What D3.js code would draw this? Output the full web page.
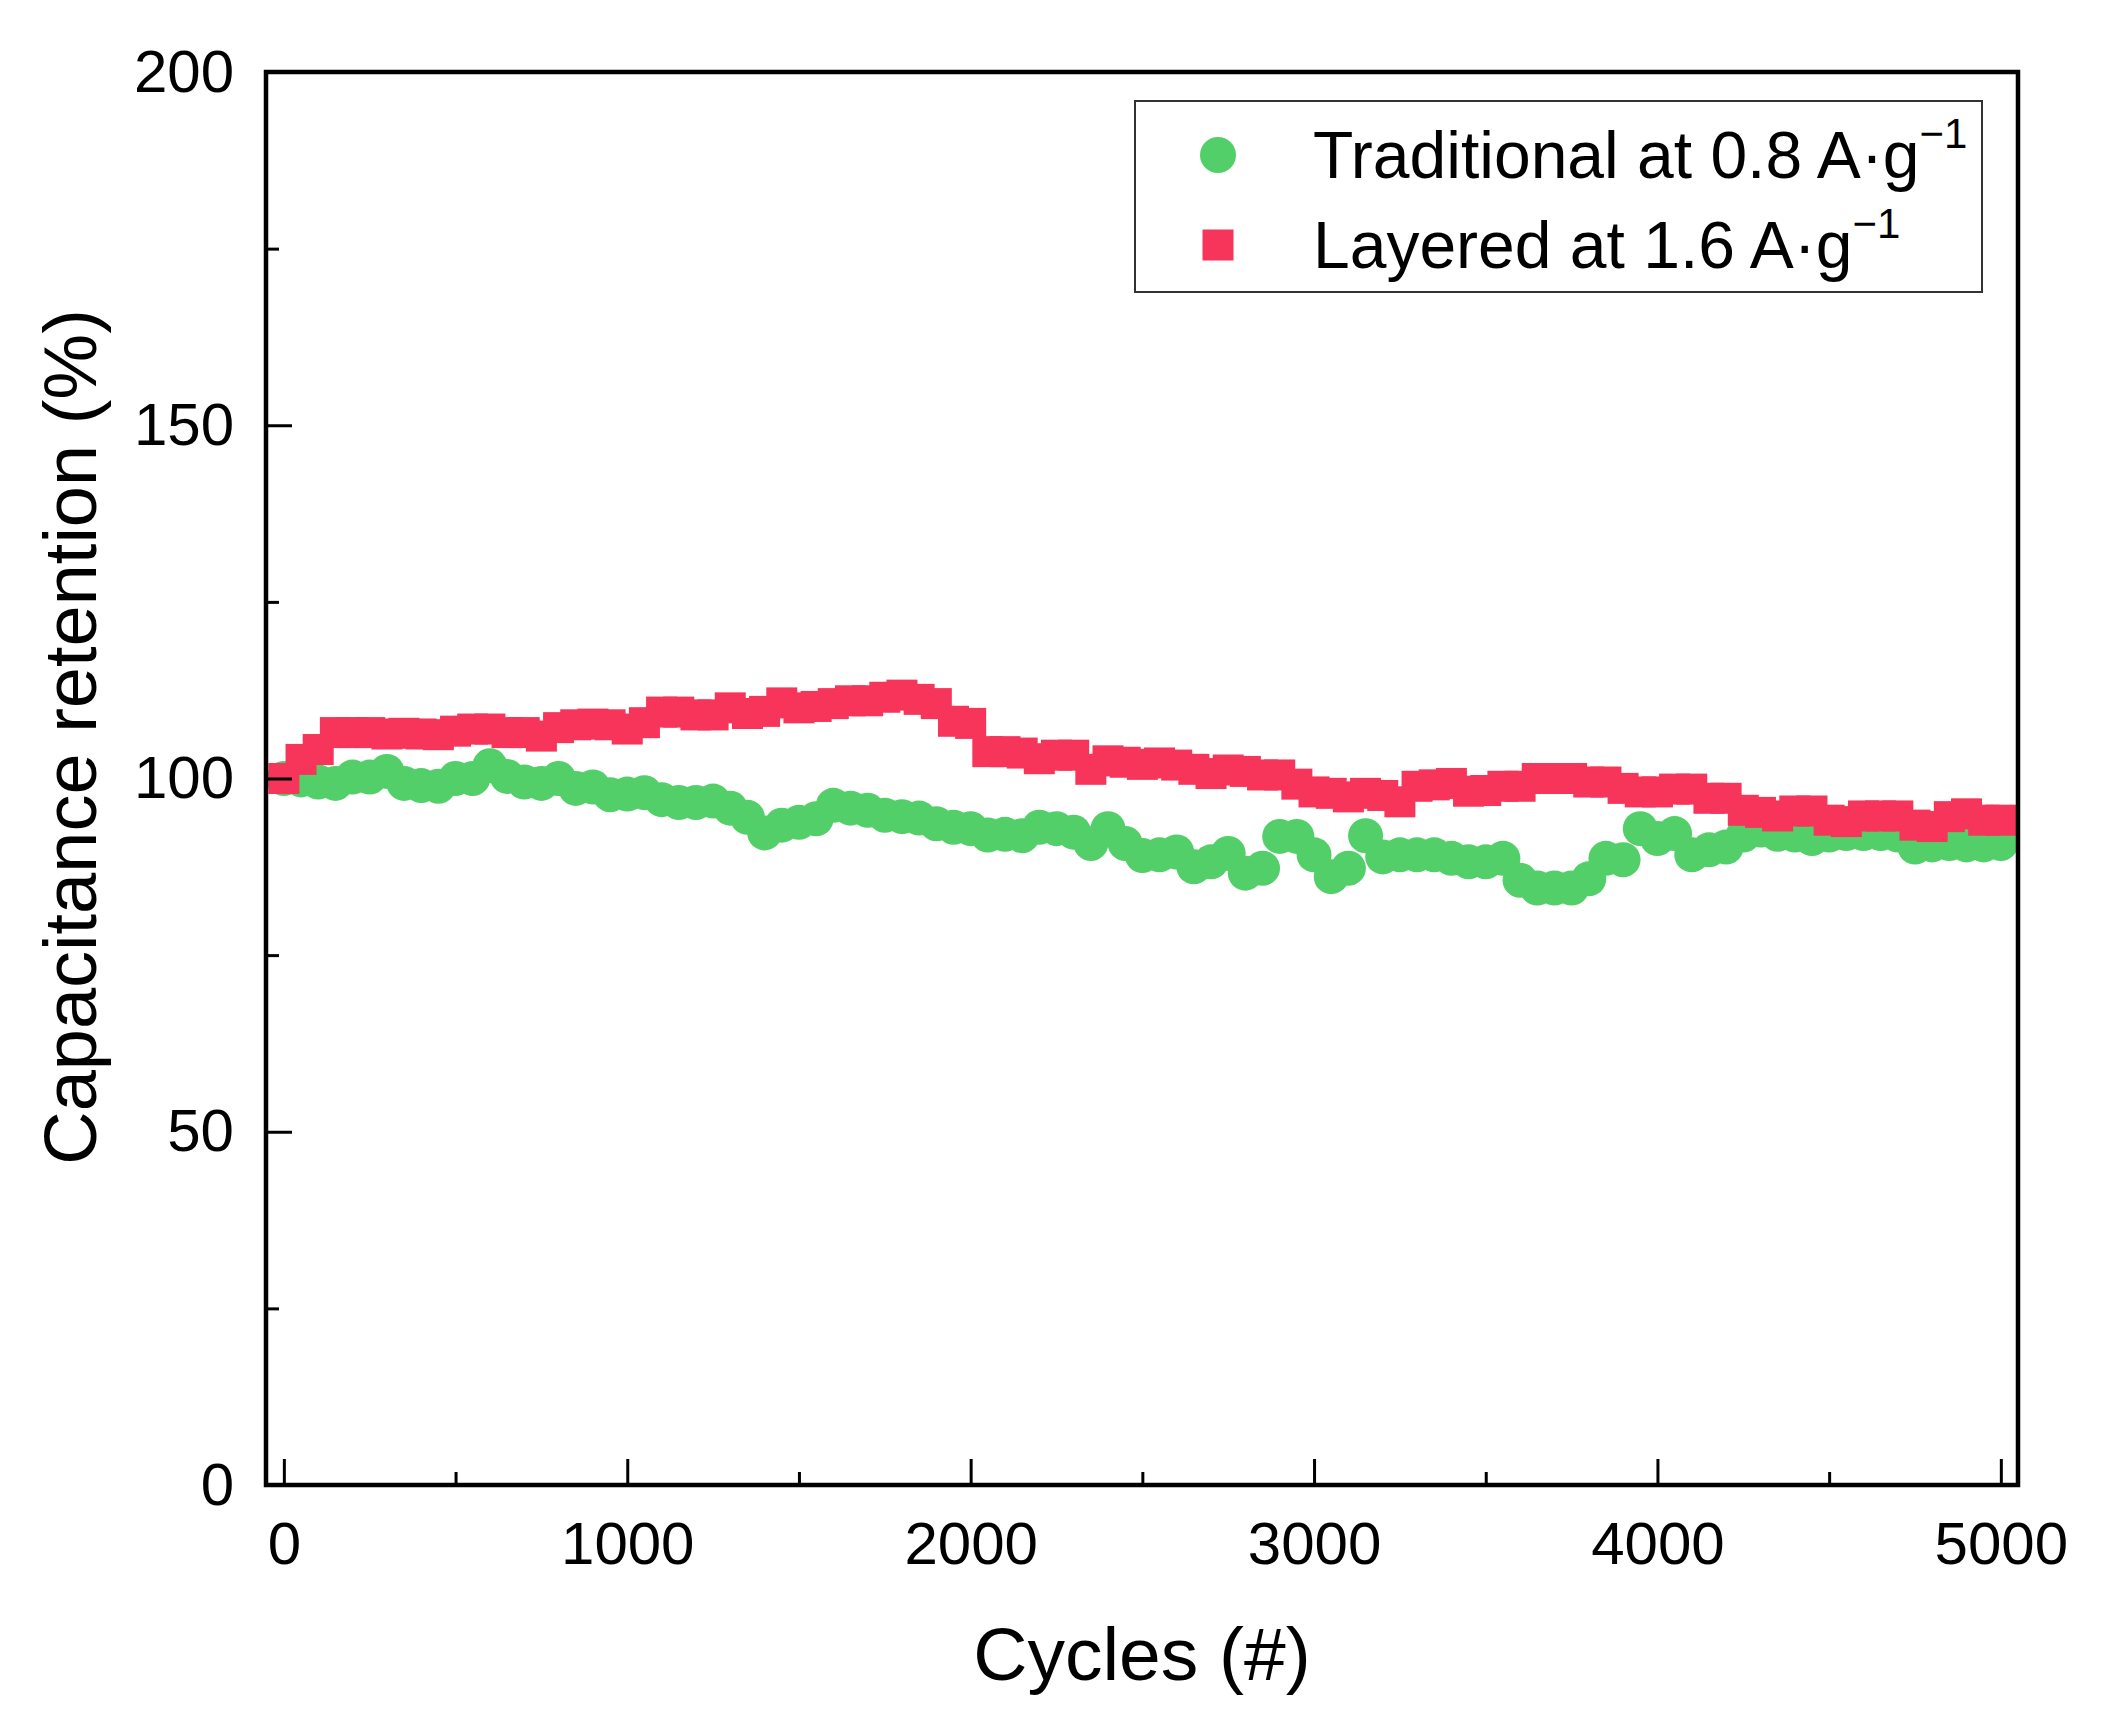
<!DOCTYPE html>
<html>
<head>
<meta charset="utf-8">
<script src="https://cdn.jsdelivr.net/npm/d3@7"></script>
<style>
  html, body { margin: 0; padding: 0; background: #fff; }
  svg { display: block; }
  text { font-family: "Liberation Sans", Arial, Helvetica, sans-serif; fill: #000; }
</style>
</head>
<body>
<svg id="chart" width="2110" height="1724"></svg>
<script>
// ---- data ----
const cycles = d3.range(0, 5001, 50); // every 50 cycles, 0..5000

const traditional = [
  100.0, 99.8, 99.5, 99.3, 100.2, 100.2, 101.0, 99.3, 99.0, 98.9,
  100.0, 100.0, 101.8, 100.3, 99.5, 99.3, 100.0, 98.6, 98.8, 97.7,
  97.8, 98.0, 97.0, 96.6, 96.6, 96.8, 95.8, 94.5, 92.3, 93.4,
  93.8, 94.3, 96.2, 95.8, 95.5, 94.8, 94.6, 94.4, 93.6, 93.1,
  92.9, 92.0, 92.1, 91.9, 93.1, 92.9, 92.4, 90.8, 92.9, 90.8,
  89.1, 89.2, 89.6, 87.5, 88.2, 89.4, 86.6, 87.3, 91.8, 91.8,
  89.2, 86.1, 87.3, 91.9, 88.9, 89.2, 89.2, 89.2, 88.7, 88.2,
  88.2, 88.7, 85.6, 84.5, 84.5, 84.5, 85.8, 88.7, 88.5, 92.9,
  91.5, 92.2, 89.2, 89.9, 90.3, 92.0, 92.7, 92.1, 92.0, 91.5,
  92.0, 92.2, 92.2, 92.2, 92.0, 90.3, 90.6, 90.8, 90.6, 90.6,
  90.8
];

const layered = [
  100.0, 102.7, 104.1, 106.5, 106.5, 106.5, 106.3, 106.4, 106.3, 106.2,
  106.7, 107.0, 107.0, 106.5, 106.5, 106.0, 107.2, 107.6, 107.7, 107.6,
  107.0, 107.9, 109.4, 109.4, 109.0, 109.0, 110.0, 109.2, 109.5, 110.7,
  110.0, 110.2, 110.6, 111.0, 111.0, 111.5, 111.8, 111.2, 110.6, 108.1,
  107.8, 103.8, 103.8, 103.6, 102.8, 103.3, 103.3, 101.3, 102.5, 102.3,
  102.0, 102.2, 101.9, 101.3, 100.7, 101.2, 101.0, 100.5, 100.5, 99.2,
  98.1, 97.9, 97.4, 97.9, 97.6, 96.7, 98.9, 99.1, 99.3, 98.2,
  98.3, 98.9, 98.9, 100.0, 100.0, 100.0, 99.5, 99.5, 98.6, 98.1,
  98.1, 98.5, 98.5, 97.2, 97.2, 95.5, 95.2, 94.7, 95.4, 95.4,
  94.1, 93.9, 94.7, 94.7, 94.7, 93.4, 93.2, 94.6, 95.0, 94.1,
  94.1
];

const xMajorTicks = [0, 1000, 2000, 3000, 4000, 5000];
const xMinorTicks = [500, 1500, 2500, 3500, 4500];
const yMajorTicks = [0, 50, 100, 150, 200];
const yMinorTicks = [25, 75, 125, 175];

const xTitle = "Cycles (#)";
const yTitle = "Capacitance retention (%)";
const legendLabels = [
  { base: "Traditional at 0.8 A\u00B7g", sup: "\u22121" },
  { base: "Layered at 1.6 A\u00B7g", sup: "\u22121" }
];

// ---- layout ----
const pL = 266, pR = 2018, pT = 72, pB = 1485;
const green = "#53CF6A", red = "#F7345A";

const svg = d3.select("#chart");
svg.append("rect").attr("width", 2110).attr("height", 1724).attr("fill", "#fff");

const x = d3.scaleLinear().domain([-52, 5050]).range([pL, pR]);
const y = d3.scaleLinear().domain([0, 200]).range([pB, pT]);

// ---- data marks ----
const tradData = cycles.map((c, i) => ({ c, v: traditional[i] }));
const layData = cycles.map((c, i) => ({ c, v: layered[i] }));

svg.append("g").selectAll("circle").data(tradData).join("circle")
  .attr("cx", d => x(d.c)).attr("cy", d => y(d.v)).attr("r", 17.5)
  .attr("fill", green);

const sq = 31;
svg.append("g").selectAll("rect").data(layData).join("rect")
  .attr("x", d => x(d.c) - sq / 2).attr("y", d => y(d.v) - sq / 2)
  .attr("width", sq).attr("height", sq)
  .attr("fill", red);

// ---- axes ----
function styleAxis(g) {
  g.select(".domain").remove();
  g.selectAll(".tick line").attr("stroke", "#000").attr("stroke-width", 3);
  g.selectAll(".tick text").attr("font-size", 60)
    .attr("font-family", '"Liberation Sans", Arial, sans-serif').attr("fill", "#000");
}

svg.append("g").attr("transform", `translate(0,${pB})`)
  .call(d3.axisBottom(x).tickValues(xMajorTicks).tickSizeInner(-26).tickSizeOuter(0)
    .tickPadding(36).tickFormat(d3.format("d")))
  .call(styleAxis);
svg.append("g").attr("transform", `translate(0,${pB})`)
  .call(d3.axisBottom(x).tickValues(xMinorTicks).tickSizeInner(-13).tickSizeOuter(0)
    .tickFormat(""))
  .call(styleAxis);

svg.append("g").attr("transform", `translate(${pL},0)`)
  .call(d3.axisLeft(y).tickValues(yMajorTicks).tickSizeInner(-26).tickSizeOuter(0)
    .tickPadding(32).tickFormat(d3.format("d")))
  .call(styleAxis);
svg.append("g").attr("transform", `translate(${pL},0)`)
  .call(d3.axisLeft(y).tickValues(yMinorTicks).tickSizeInner(-13).tickSizeOuter(0)
    .tickFormat(""))
  .call(styleAxis);

// frame
svg.append("rect").attr("x", pL).attr("y", pT)
  .attr("width", pR - pL).attr("height", pB - pT)
  .attr("fill", "none").attr("stroke", "#000").attr("stroke-width", 4.5);

// ---- titles ----
svg.append("text").attr("x", (pL + pR) / 2).attr("y", 1680)
  .attr("text-anchor", "middle").attr("font-size", 75).text(xTitle);

svg.append("text")
  .attr("transform", `translate(96,737) rotate(-90)`)
  .attr("text-anchor", "middle").attr("font-size", 74).text(yTitle);

// ---- legend ----
const lg = svg.append("g");
lg.append("rect").attr("x", 1135).attr("y", 101).attr("width", 847).attr("height", 191)
  .attr("fill", "#fff").attr("stroke", "#333").attr("stroke-width", 2);

const rows = [178, 268];
lg.append("circle").attr("cx", 1218).attr("cy", 155).attr("r", 18).attr("fill", green);
lg.append("rect").attr("x", 1218 - 15.5).attr("y", 245 - 15.5).attr("width", 31).attr("height", 31)
  .attr("fill", red);

legendLabels.forEach((l, i) => {
  const t = lg.append("text").attr("x", 1313).attr("y", rows[i]).attr("font-size", 66);
  t.append("tspan").text(l.base);
  t.append("tspan").attr("font-size", 42).attr("dy", -30).attr("dx", 0).text(l.sup);
});
</script>
</body>
</html>
